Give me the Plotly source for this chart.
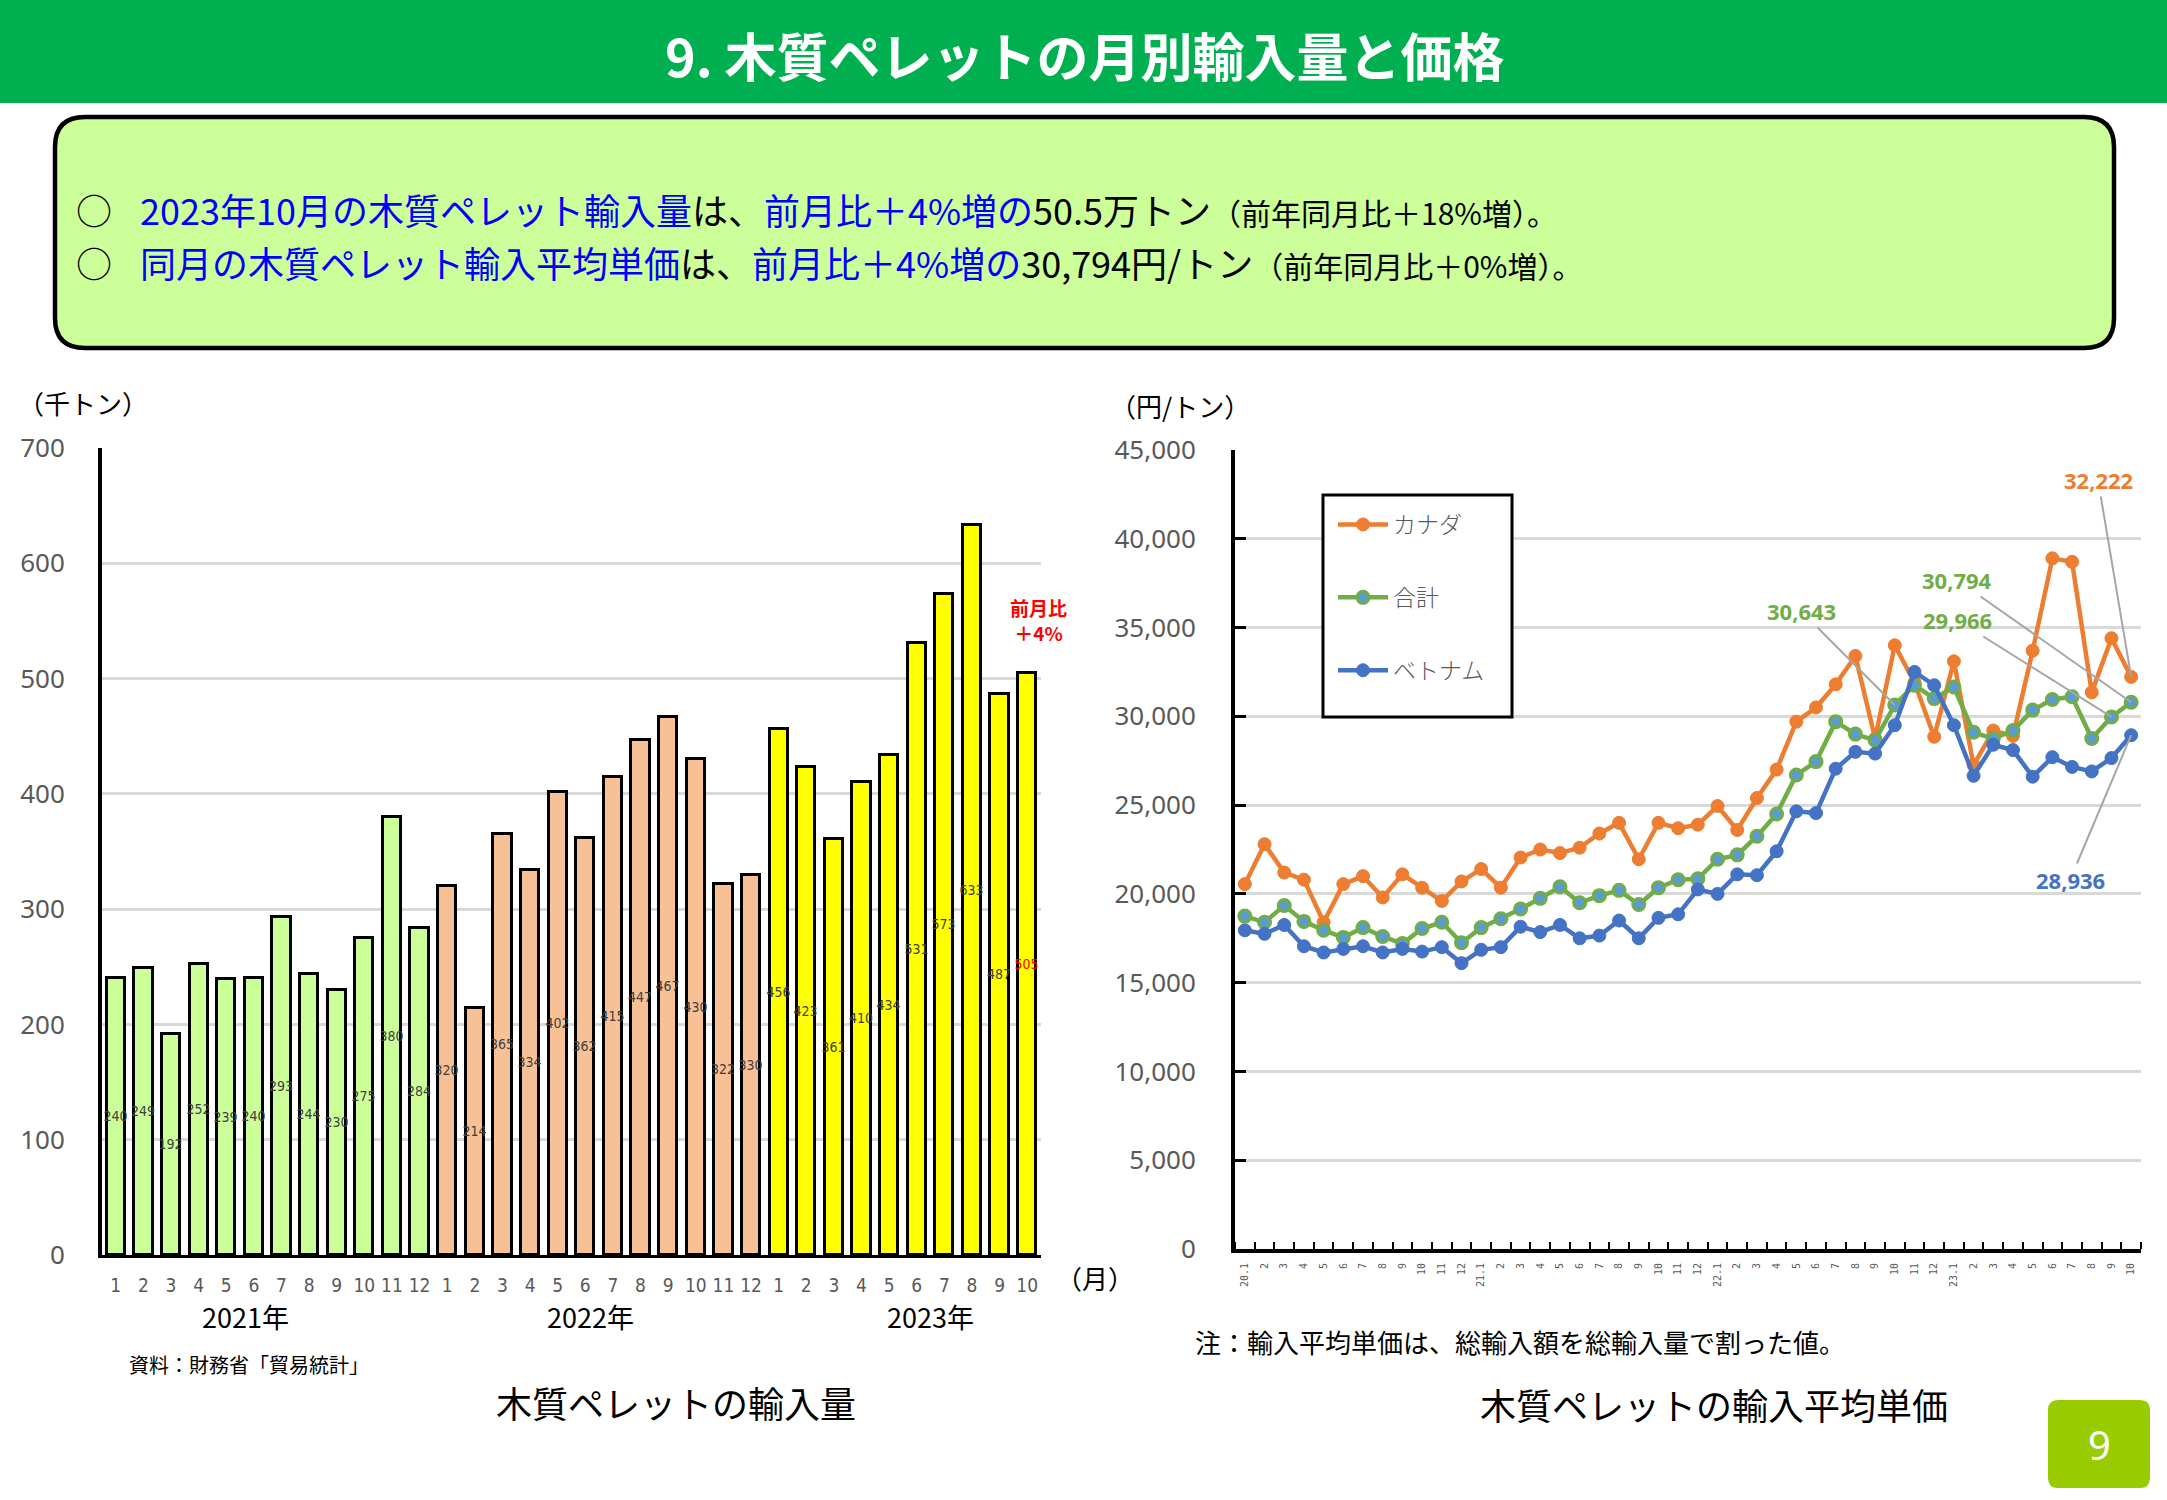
import plotly.graph_objects as go

W, H = 2167, 1500

# ---------------- data ----------------
months_bar = ["1", "2", "3", "4", "5", "6", "7", "8", "9", "10", "11", "12",
              "1", "2", "3", "4", "5", "6", "7", "8", "9", "10", "11", "12",
              "1", "2", "3", "4", "5", "6", "7", "8", "9", "10"]
years = ["2021年", "2022年", "2023年"]
vol_2021 = [240, 249, 192, 252, 239, 240, 293, 244, 230, 275, 380, 284]
vol_2022 = [320, 214, 365, 334, 402, 362, 415, 447, 467, 430, 322, 330]
vol_2023 = [456, 423, 361, 410, 434, 531, 573, 633, 487, 505]

price_months = ["20.1", "2", "3", "4", "5", "6", "7", "8", "9", "10", "11", "12",
                "21.1", "2", "3", "4", "5", "6", "7", "8", "9", "10", "11", "12",
                "22.1", "2", "3", "4", "5", "6", "7", "8", "9", "10", "11", "12",
                "23.1", "2", "3", "4", "5", "6", "7", "8", "9", "10"]
canada = [20550, 22800, 21200, 20800, 18400, 20550, 21000, 19800, 21100, 20350, 19600, 20700,
          21400, 20350, 22050, 22500, 22300, 22600, 23400, 24000, 21950, 24000, 23700, 23900,
          24950, 23600, 25400, 27000, 29700, 30500, 31800, 33400, 28750, 34000, 31900, 28850,
          33100, 27250, 29200, 28900, 33700, 38900, 38700, 31350, 34400, 32222]
total = [18750, 18400, 19350, 18450, 17950, 17550, 18100, 17600, 17200, 18050, 18400, 17250,
         18100, 18600, 19150, 19750, 20400, 19500, 19900, 20200, 19400, 20350, 20800, 20850,
         21950, 22200, 23250, 24500, 26700, 27450, 29700, 29000, 28650, 30643, 31750, 31000,
         31650, 29100, 28750, 29200, 30350, 30950, 31100, 28750, 29966, 30794]
vietnam = [17950, 17750, 18250, 17050, 16700, 16900, 17050, 16700, 16900, 16750, 17000, 16100,
           16850, 17000, 18150, 17850, 18250, 17500, 17650, 18500, 17500, 18650, 18850, 20250,
           20000, 21100, 21050, 22400, 24650, 24550, 27050, 28000, 27900, 29500, 32500, 31750,
           29500, 26650, 28400, 28100, 26600, 27700, 27150, 26900, 27650, 28936]

# ---------------- helpers ----------------
JP = "Noto Sans CJK JP"
NARROW = "Liberation Sans Narrow, DejaVu Sans Condensed, Arial Narrow, sans-serif"
GRAY = "#595959"


def X(px):
    return px / W


def Y(py):
    return 1 - py / H


# plot geometry (pixels)
LX0, LX1, LY_TOP, LY_BOT = 102, 1041, 448, 1255
RX0, RX1, RY_TOP, RY_BOT = 1235, 2141, 450, 1249
N = len(price_months)


def rdx(px):
    return (px - RX0) / (RX1 - RX0) * N - 0.5


def rdy(py):
    return (RY_BOT - py) / (RY_BOT - RY_TOP) * 45000


def rrect(x0, y0, x1, y1, r):
    return (f"M {X(x0 + r)},{Y(y0)} L {X(x1 - r)},{Y(y0)} Q {X(x1)},{Y(y0)} {X(x1)},{Y(y0 + r)} "
            f"L {X(x1)},{Y(y1 - r)} Q {X(x1)},{Y(y1)} {X(x1 - r)},{Y(y1)} "
            f"L {X(x0 + r)},{Y(y1)} Q {X(x0)},{Y(y1)} {X(x0)},{Y(y1 - r)} "
            f"L {X(x0)},{Y(y0 + r)} Q {X(x0)},{Y(y0)} {X(x0 + r)},{Y(y0)} Z")


fig = go.Figure()

# ---------------- bar chart ----------------
groups = [(vol_2021, "#CCFF99"), (vol_2022, "#F8C095"), (vol_2023, "#FFFF00")]
start = 0
for gi, (vals, col) in enumerate(groups):
    xs = list(range(start, start + len(vals)))
    tcol = ["#404040"] * len(vals)
    if gi == len(groups) - 1:
        tcol[-1] = "#FF0000"
    fig.add_trace(go.Bar(
        x=xs, y=vals, width=0.66,
        marker=dict(color=col, line=dict(color="black", width=3)),
        text=[str(v) for v in vals], textposition="inside", insidetextanchor="middle",
        textangle=0, constraintext="none",
        insidetextfont=dict(size=14, color=tcol, family=NARROW),
        xaxis="x", yaxis="y", showlegend=False, hoverinfo="skip"))
    start += len(vals)

# ---------------- line chart ----------------
xi = list(range(N))
fig.add_trace(go.Scatter(
    x=xi, y=canada, name="カナダ", mode="lines+markers",
    line=dict(color="#ED7D31", width=4.5),
    marker=dict(size=13, color="#ED7D31", line=dict(color="#ED7D31", width=1)),
    xaxis="x2", yaxis="y2", legendgroup="a", hoverinfo="skip"))
fig.add_trace(go.Scatter(
    x=xi, y=total, name="合計", mode="lines+markers",
    line=dict(color="#70AD47", width=4.5),
    marker=dict(size=12, color="#5B9BD5", line=dict(color="#70AD47", width=3)),
    xaxis="x2", yaxis="y2", legendgroup="b", hoverinfo="skip"))
fig.add_trace(go.Scatter(
    x=xi, y=vietnam, name="ベトナム", mode="lines+markers",
    line=dict(color="#4472C4", width=4.5),
    marker=dict(size=13, color="#4472C4", line=dict(color="#4472C4", width=1)),
    xaxis="x2", yaxis="y2", legendgroup="c", hoverinfo="skip"))

# ---------------- shapes ----------------
shapes = [
    dict(type="rect", xref="paper", yref="paper", x0=0, x1=1, y0=Y(103), y1=1,
         fillcolor="#00B050", line=dict(width=0), layer="below"),
    dict(type="path", xref="paper", yref="paper", path=rrect(55, 117, 2114, 348, 30),
         fillcolor="#CCFF99", line=dict(color="black", width=4.5), layer="below"),
    dict(type="path", xref="paper", yref="paper", path=rrect(2048, 1400, 2150, 1488, 10),
         fillcolor="#99CC00", line=dict(width=0), layer="below"),
    dict(type="rect", xref="paper", yref="paper", x0=X(1323), x1=X(1512), y0=Y(717), y1=Y(495),
         fillcolor="white", line=dict(color="black", width=3), layer="above"),
]

# ---------------- annotations ----------------
ann = []


def txt(text, x, y, size, color="black", xanchor="center", yanchor="middle", family=JP,
        weight="normal", xref="paper"):
    ann.append(dict(text=text, x=x, y=Y(y), xref=xref, yref="paper", showarrow=False,
                    xanchor=xanchor, yanchor=yanchor,
                    font=dict(size=size, color=color, family=family, weight=weight)))


txt("9. 木質ペレットの月別輸入量と価格", X(1084), 54, 52, "white", weight="bold")

BL = "#0000FF"
sm = "font-size:30px"
line1 = (f"<span style='color:{BL}'>2023年10月の木質ペレット輸入量</span>は、"
         f"<span style='color:{BL}'>前月比＋4%増の</span>50.5万トン"
         f"<span style='{sm}'>（前年同月比＋18%増）。</span>")
line2 = (f"<span style='color:{BL}'>同月の木質ペレット輸入平均単価</span>は、"
         f"<span style='color:{BL}'>前月比＋4%増の</span>30,794円/トン"
         f"<span style='{sm}'>（前年同月比＋0%増）。</span>")
txt("○", X(74), 209, 36, xanchor="left")
txt("○", X(74), 262, 36, xanchor="left")
txt(line1, X(138), 209, 36, xanchor="left")
txt(line2, X(138), 262, 36, xanchor="left")

# bar chart texts
txt("（千トン）", X(16), 403, 26, xanchor="left")
year_pos = [4.7, 17.2, 29.5]
for yl, xp in zip(years, year_pos):
    txt(yl, xp, 1316, 27, xref="x")
txt("（月）", X(1095), 1277, 26)
txt("資料：財務省「貿易統計」", X(127), 1364, 20, xanchor="left")
txt("木質ペレットの輸入量", X(676), 1402, 36)
txt("前月比<br>＋4%", X(1038), 620, 19, "#FF0000", weight="bold")

# line chart texts
txt("（円/トン）", X(1108), 405, 26, xanchor="left")
txt("注：輸入平均単価は、総輸入額を総輸入量で割った値。", X(1193), 1341, 26, xanchor="left")
txt("木質ペレットの輸入平均単価", X(1714), 1404, 36)
txt("9", X(2099), 1444, 40, "white", family="Noto Sans")

# data labels with leader lines
labels = [
    ("32,222", 45, canada[45], 2098, 480, "#ED7D31"),
    ("30,794", 45, total[45], 1957, 580, "#70AD47"),
    ("29,966", 44, total[44], 1957, 620, "#70AD47"),
    ("30,643", 33, total[33], 1801, 611, "#70AD47"),
    ("28,936", 45, vietnam[45], 2070, 880, "#4472C4"),
]
for t, xv, yv, tx, ty, c in labels:
    ann.append(dict(text=t, x=xv, y=yv, xref="x2", yref="y2", ax=rdx(tx), ay=rdy(ty),
                    axref="x2", ayref="y2", showarrow=True, arrowhead=0, arrowwidth=2,
                    arrowcolor="#A6A6A6", standoff=0,
                    font=dict(size=22, color=c, family="Noto Sans", weight="bold")))

fig.update_layout(
    width=W, height=H, margin=dict(l=0, r=0, t=0, b=0, pad=0, autoexpand=False),
    paper_bgcolor="white", plot_bgcolor="white",
    barmode="overlay", bargap=0,
    shapes=shapes, annotations=ann,
    showlegend=True,
    legend=dict(x=X(1333), y=Y(503), xanchor="left", yanchor="top",
                bgcolor="rgba(0,0,0,0)", borderwidth=0, tracegroupgap=40,
                font=dict(size=23, color=GRAY, family=JP, weight=300),
                itemwidth=50),
    xaxis=dict(domain=[X(LX0), X(LX1)], range=[-0.5, len(months_bar) - 0.5],
               tickmode="array", tickvals=list(range(len(months_bar))), ticktext=months_bar,
               tickfont=dict(size=19, color=GRAY, family=NARROW), ticks="",
               ticklabelstandoff=11, automargin=False,
               showline=True, linecolor="black", linewidth=3, showgrid=False, zeroline=False,
               anchor="y"),
    yaxis=dict(domain=[Y(LY_BOT), Y(LY_TOP)], range=[0, 700], dtick=100,
               tickfont=dict(size=26, color=GRAY, family="Noto Sans"), ticks="",
               ticklabelstandoff=28, automargin=False,
               showline=True, linecolor="black", linewidth=4,
               showgrid=True, gridcolor="#D9D9D9", gridwidth=3, zeroline=False, anchor="x"),
    xaxis2=dict(domain=[X(RX0), X(RX1)], range=[-0.5, N - 0.5],
                tickmode="array", tickvals=xi, ticktext=price_months, tickangle=-90,
                tickfont=dict(size=10, color=GRAY, family="DejaVu Sans Mono"), ticks="",
                ticklabelstandoff=6, automargin=False,
                minor=dict(tickmode="array", tickvals=[i - 0.5 for i in range(N + 1)],
                           ticks="inside", ticklen=7, tickwidth=2, tickcolor="black",
                           showgrid=False),
                showline=True, linecolor="black", linewidth=4, showgrid=False, zeroline=False,
                anchor="y2"),
    yaxis2=dict(domain=[Y(RY_BOT), Y(RY_TOP)], range=[0, 45000], dtick=5000, tickformat=",",
                tickfont=dict(size=26, color=GRAY, family="Noto Sans"),
                ticks="inside", ticklen=11, tickwidth=3, tickcolor="black",
                ticklabelstandoff=30, automargin=False,
                showline=True, linecolor="black", linewidth=4,
                showgrid=True, gridcolor="#D9D9D9", gridwidth=3, zeroline=False, anchor="x2"),
)

fig.write_html("out.html")
